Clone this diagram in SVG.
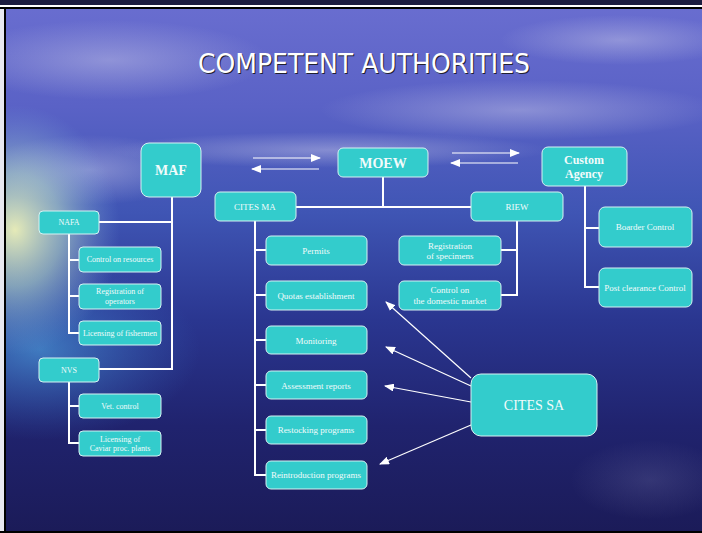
<svg xmlns="http://www.w3.org/2000/svg" width="702" height="533" viewBox="0 0 702 533">
<defs>
<linearGradient id="bg" x1="0" y1="0" x2="0" y2="1">
<stop offset="0" stop-color="#6a6ed0"/>
<stop offset="0.2" stop-color="#5a62c6"/>
<stop offset="0.4" stop-color="#3f55b4"/>
<stop offset="0.6" stop-color="#2a3690"/>
<stop offset="0.8" stop-color="#20236e"/>
<stop offset="1" stop-color="#1b1b58"/>
</linearGradient>
<radialGradient id="glow" cx="0.5" cy="0.5" r="0.5">
<stop offset="0" stop-color="#eef2b8" stop-opacity="0.95"/>
<stop offset="0.45" stop-color="#b8dcc8" stop-opacity="0.6"/>
<stop offset="1" stop-color="#7fa8e0" stop-opacity="0"/>
</radialGradient>
<radialGradient id="sea" cx="0.5" cy="0.5" r="0.5">
<stop offset="0" stop-color="#4a9ad8" stop-opacity="0.7"/>
<stop offset="1" stop-color="#3a70c8" stop-opacity="0"/>
</radialGradient>
<radialGradient id="cloud" cx="0.5" cy="0.5" r="0.5">
<stop offset="0" stop-color="#c8c8e8" stop-opacity="0.45"/>
<stop offset="1" stop-color="#c8c8e8" stop-opacity="0"/>
</radialGradient>
<marker id="ah" markerUnits="userSpaceOnUse" markerWidth="10" markerHeight="8" refX="9" refY="4" orient="auto">
<path d="M0,0 L10,4 L0,8 z" fill="#ffffff"/>
</marker>
<style>
.box{fill:#33cccc;stroke:#d6f2f2;stroke-width:1}
.t{font-family:"Liberation Serif","Times New Roman",serif;fill:#f2fbfb;text-anchor:middle}
.s8{font-size:8px}
.s9{font-size:9px}
.b{font-weight:bold}
.conn line{stroke:#ffffff;stroke-width:2}
.arr line{stroke:#ffffff;stroke-width:1.2;marker-end:url(#ah)}
</style>
</defs>
<!-- background -->
<rect x="0" y="0" width="702" height="533" fill="url(#bg)"/>
<ellipse cx="110" cy="60" rx="160" ry="40" fill="url(#cloud)"/>
<ellipse cx="520" cy="110" rx="200" ry="30" fill="url(#cloud)"/>
<ellipse cx="330" cy="150" rx="220" ry="18" fill="url(#cloud)"/>
<ellipse cx="620" cy="40" rx="120" ry="25" fill="url(#cloud)"/>
<ellipse cx="90" cy="170" rx="110" ry="35" fill="url(#cloud)"/>
<ellipse cx="40" cy="350" rx="160" ry="90" fill="url(#sea)"/>
<ellipse cx="15" cy="230" rx="105" ry="125" fill="url(#glow)"/>
<ellipse cx="650" cy="480" rx="80" ry="40" fill="url(#cloud)" opacity="0.3"/>
<!-- frame -->
<rect x="0" y="0" width="702" height="5" fill="#1c1c40"/>
<rect x="0" y="5" width="702" height="2" fill="#ffffff"/>
<rect x="0" y="7" width="702" height="2" fill="#000000"/>
<rect x="0" y="9" width="4" height="524" fill="#e8e8f0"/>
<rect x="4" y="9" width="2" height="524" fill="#000000"/>
<rect x="0" y="531" width="702" height="2" fill="#000000"/>
<!-- title -->
<text x="365" y="74" font-family="'DejaVu Sans Condensed','Liberation Sans',sans-serif" font-size="27" fill="#202030" text-anchor="middle" textLength="332" lengthAdjust="spacingAndGlyphs">COMPETENT AUTHORITIES</text>
<text x="364" y="73" font-family="'DejaVu Sans Condensed','Liberation Sans',sans-serif" font-size="27" fill="#ffffff" text-anchor="middle" textLength="332" lengthAdjust="spacingAndGlyphs">COMPETENT AUTHORITIES</text>
<!-- connectors -->
<g id="connectors">
<g class="conn">
<line x1="172" y1="197" x2="172" y2="370"/>
<line x1="99" y1="222" x2="173" y2="222"/>
<line x1="99" y1="369" x2="173" y2="369"/>
<line x1="69" y1="234" x2="69" y2="334"/>
<line x1="68" y1="260" x2="79" y2="260"/>
<line x1="68" y1="296" x2="79" y2="296"/>
<line x1="68" y1="333" x2="79" y2="333"/>
<line x1="69" y1="382" x2="69" y2="444"/>
<line x1="68" y1="406" x2="79" y2="406"/>
<line x1="68" y1="443" x2="79" y2="443"/>
<line x1="383" y1="177" x2="383" y2="207"/>
<line x1="296" y1="207" x2="471" y2="207"/>
<line x1="255" y1="221" x2="255" y2="476"/>
<line x1="254" y1="250" x2="266" y2="250"/>
<line x1="254" y1="295" x2="266" y2="295"/>
<line x1="254" y1="340" x2="266" y2="340"/>
<line x1="254" y1="385" x2="266" y2="385"/>
<line x1="254" y1="430" x2="266" y2="430"/>
<line x1="254" y1="475" x2="266" y2="475"/>
<line x1="517" y1="221" x2="517" y2="296"/>
<line x1="501" y1="250" x2="518" y2="250"/>
<line x1="501" y1="295" x2="518" y2="295"/>
<line x1="585" y1="186" x2="585" y2="288"/>
<line x1="584" y1="228" x2="599" y2="228"/>
<line x1="584" y1="287" x2="599" y2="287"/>
</g>
<g class="arr">
<line x1="253" y1="158" x2="320" y2="158"/>
<line x1="319" y1="169" x2="252" y2="169"/>
<line x1="452" y1="153" x2="519" y2="153"/>
<line x1="518" y1="163" x2="451" y2="163"/>
<line x1="471" y1="378" x2="386" y2="302"/>
<line x1="471" y1="386" x2="386" y2="347"/>
<line x1="471" y1="402" x2="385" y2="386"/>
<line x1="471" y1="425" x2="380" y2="464"/>
</g>
</g>
<!-- nodes -->
<g id="maf"><rect class="box" x="141" y="143" width="60" height="54" rx="8"/><text class="t b" x="171" y="175" font-size="14">MAF</text></g>
<g id="nafa"><rect class="box" x="39" y="211" width="60" height="23" rx="4"/><text class="t s8" x="69" y="225">NAFA</text></g>
<g id="control-resources"><rect class="box" x="79" y="247" width="82" height="25" rx="4"/><text class="t s8" x="120" y="262">Control on resources</text></g>
<g id="registration-operators"><rect class="box" x="79" y="284" width="82" height="25" rx="4"/><text class="t s8" x="120" y="294">Registration of</text><text class="t s8" x="120" y="304">operators</text></g>
<g id="licensing-fishermen"><rect class="box" x="79" y="321" width="82" height="24" rx="4"/><text class="t s8" x="120" y="336">Licensing of fishermen</text></g>
<g id="nvs"><rect class="box" x="39" y="358" width="60" height="24" rx="4"/><text class="t s8" x="69" y="373">NVS</text></g>
<g id="vet-control"><rect class="box" x="79" y="394" width="82" height="24" rx="4"/><text class="t s8" x="120" y="409">Vet. control</text></g>
<g id="licensing-caviar"><rect class="box" x="79" y="431" width="82" height="25" rx="4"/><text class="t s8" x="120" y="442">Licensing of</text><text class="t s8" x="120" y="451">Caviar proc. plants</text></g>
<g id="moew"><rect class="box" x="338" y="148" width="90" height="29" rx="5"/><text class="t b" x="383" y="168" font-size="14">MOEW</text></g>
<g id="custom-agency"><rect class="box" x="542" y="147" width="85" height="39" rx="6"/><text class="t b" x="584" y="164" font-size="12">Custom</text><text class="t b" x="584" y="178" font-size="12">Agency</text></g>
<g id="cites-ma"><rect class="box" x="215" y="192" width="81" height="29" rx="5"/><text class="t s9" x="255" y="210">CITES MA</text></g>
<g id="riew"><rect class="box" x="471" y="192" width="92" height="29" rx="5"/><text class="t s9" x="517" y="210">RIEW</text></g>
<g id="permits"><rect class="box" x="266" y="236" width="101" height="29" rx="5"/><text class="t s9" x="316" y="254">Permits</text></g>
<g id="quotas"><rect class="box" x="266" y="281" width="101" height="29" rx="5"/><text class="t s9" x="316" y="299">Quotas establishment</text></g>
<g id="monitoring"><rect class="box" x="266" y="326" width="101" height="28" rx="5"/><text class="t s9" x="316" y="344">Monitoring</text></g>
<g id="assessment"><rect class="box" x="266" y="371" width="101" height="28" rx="5"/><text class="t s9" x="316" y="389">Assessment reports</text></g>
<g id="restocking"><rect class="box" x="266" y="416" width="101" height="28" rx="5"/><text class="t s9" x="316" y="433">Restocking programs</text></g>
<g id="reintroduction"><rect class="box" x="266" y="461" width="101" height="28" rx="5"/><text class="t s9" x="316" y="478">Reintroduction programs</text></g>
<g id="registration-specimens"><rect class="box" x="399" y="236" width="102" height="29" rx="5"/><text class="t s9" x="450" y="249">Registration</text><text class="t s9" x="450" y="259">of specimens</text></g>
<g id="control-domestic"><rect class="box" x="399" y="281" width="102" height="29" rx="5"/><text class="t s9" x="450" y="293">Control on</text><text class="t s9" x="450" y="304">the domestic market</text></g>
<g id="boarder-control"><rect class="box" x="599" y="207" width="93" height="40" rx="6"/><text class="t s9" x="645" y="230">Boarder Control</text></g>
<g id="post-clearance"><rect class="box" x="599" y="268" width="93" height="39" rx="6"/><text class="t s9" x="645" y="291">Post clearance Control</text></g>
<g id="cites-sa"><rect class="box" x="471" y="374" width="126" height="62" rx="10"/><text class="t" x="534" y="410" font-size="14">CITES SA</text></g>
</svg>
